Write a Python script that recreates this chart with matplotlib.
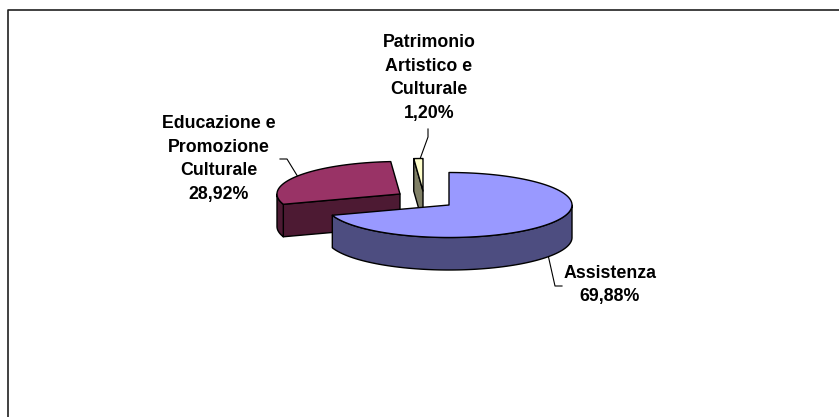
import numpy as np
import matplotlib
matplotlib.use("Agg")
import matplotlib.pyplot as plt

labels = ["Assistenza", "Educazione e\nPromozione\nCulturale", "Patrimonio\nArtistico e\nCulturale"]
values = [69.88, 28.92, 1.20]
pct_labels = ["69,88%", "28,92%", "1,20%"]
top_colors = ["#9999FF", "#993366", "#FFFFCC"]
wall_colors = ["#4D4D80", "#4D1A33", "#808066"]

# pie geometry in pixels
CX, CY = 449, 205
RX, RY = 123, 32.5
DEPTH = 32.5
offsets = [(0, 0), (-49, -11), (-26, -14)]
label_pos = [(610, 285), (219, 159), (429, 78)]
leaders = [
    [(548.5, 257), (555, 286), (562, 286)],
    [(298, 177), (287, 159), (280, 159)],
    [(420, 159), (428, 137), (428, 129)],
]


def arc_points(a0, a1, cx, cy):
    # angles are clockwise from 12 o'clock, in degrees
    t = np.radians(np.linspace(a0, a1, 200))
    return cx + RX * np.sin(t), cy - RY * np.cos(t)


def draw_wall(ax, xs, ys, color, z):
    px = np.concatenate([xs, xs[::-1]])
    py = np.concatenate([ys, ys[::-1] + DEPTH])
    ax.fill(px, py, facecolor=color, edgecolor="black", lw=1, zorder=z, joinstyle="round")


def draw_slice(ax, a0, a1, off, top, wall, z):
    cx, cy = CX + off[0], CY + off[1]
    ax_x, ax_y = arc_points(a0, a1, cx, cy)
    # left cut face, seen for slices ending behind the centre
    if a0 > 180:
        draw_wall(ax, np.array([ax_x[0], cx]), np.array([ax_y[0], cy]), wall, z)
    # outer wall, only the part facing the viewer
    lo, hi = max(a0, 90), min(a1, 270)
    if lo < hi:
        wx, wy = arc_points(lo, hi, cx, cy)
        draw_wall(ax, wx, wy, wall, z)
    ax.fill(np.concatenate([[cx], ax_x]), np.concatenate([[cy], ax_y]),
            facecolor=top, edgecolor="black", lw=1, zorder=z, joinstyle="round")


def main():
    fig = plt.figure(figsize=(8.39, 4.17), dpi=100)
    ax = fig.add_axes([0, 0, 1, 1])
    ax.set_xlim(0, 839)
    ax.set_ylim(417, 0)
    ax.axis("off")

    # chart frame, runs off the bottom and right of the image
    ax.plot([8, 8, 839], [417, 10, 10], color="#202020", lw=1.2)

    edges = np.cumsum([0] + values) * 3.6
    order = [2, 1, 0]  # back to front
    for z, i in enumerate(order):
        draw_slice(ax, edges[i], edges[i + 1], offsets[i], top_colors[i], wall_colors[i], 3 + z)

    for i in range(3):
        xs, ys = zip(*leaders[i])
        ax.plot(xs, ys, color="black", lw=0.8, zorder=2)
        ax.text(label_pos[i][0], label_pos[i][1], labels[i] + "\n" + pct_labels[i],
                ha="center", va="center", family="Liberation Sans",
                fontweight="bold", fontsize=12.8, linespacing=1.5, color="black")

    fig.savefig("out.png", dpi=100)


if __name__ == "__main__":
    main()
